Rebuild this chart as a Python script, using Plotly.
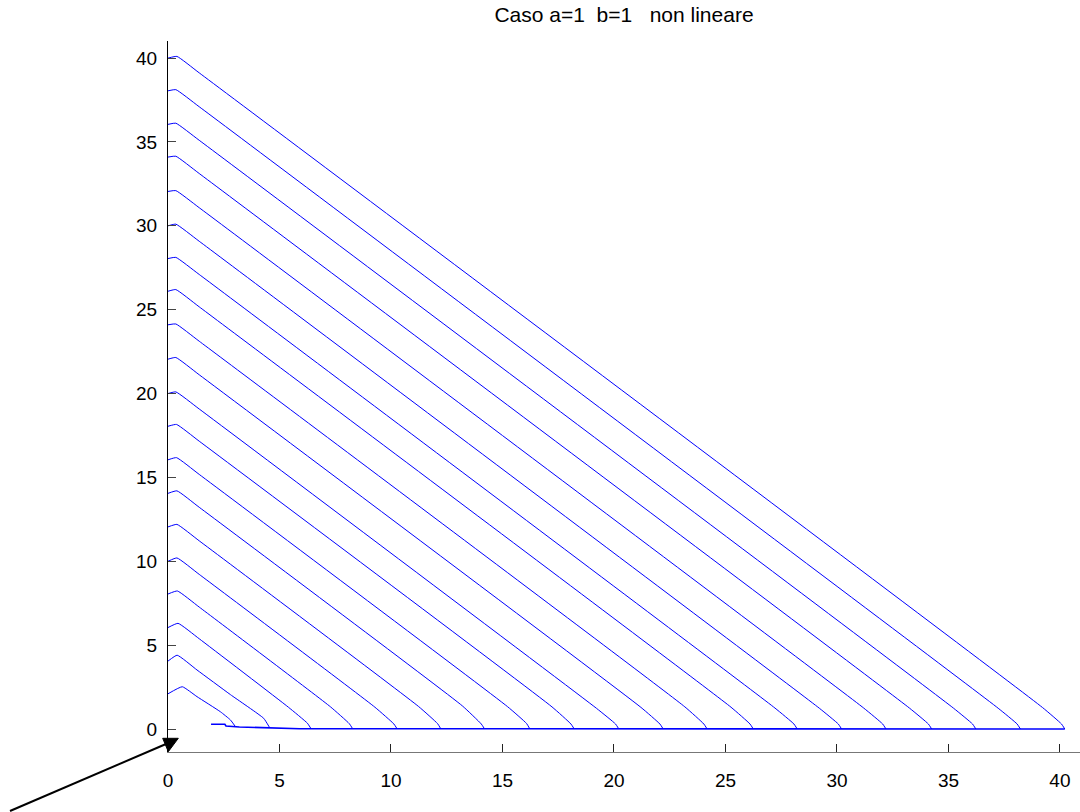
import plotly.graph_objects as go

# Trajectories starting on the y axis: start, peak, shoulder, knee, hook and end points
start_y = [2.1, 4.05, 6.05, 8.05, 10.0, 12.05, 14.05, 16.05, 18.05, 20.0,
           22.05, 24.1, 26.1, 28.05, 30.0, 32.05, 34.1, 36.05, 38.05, 40.0]
peak_x = [0.64, 0.41, 0.45, 0.42, 0.40, 0.40, 0.40, 0.38, 0.38, 0.35,
          0.35, 0.35, 0.35, 0.35, 0.35, 0.35, 0.35, 0.35, 0.35, 0.40]
peak_y = [2.52, 4.40, 6.30, 8.23, 10.20, 12.20, 14.20, 16.18, 18.16, 20.10,
          22.15, 24.15, 26.20, 28.12, 30.10, 32.10, 34.15, 36.12, 38.12, 40.10]
shoulder_x = [1.30, 1.30, 1.40, 1.40, 1.40, 1.40, 1.40, 1.40, 1.40, 1.40,
              1.40, 1.40, 1.40, 1.40, 1.40, 1.40, 1.40, 1.40, 1.40, 1.40]
shoulder_y = [1.93, 3.52, 5.38, 7.27, 9.22, 11.22, 13.22, 15.18, 17.16, 19.08,
              21.12, 23.12, 25.17, 27.10, 29.08, 31.08, 33.12, 35.10, 37.10, 39.12]
knee_x = [2.35, 2.80, 5.40, 7.28, 9.28, 11.24, 13.20, 15.23, 17.22, 19.22,
          21.21, 23.18, 25.25, 27.22, 29.21, 31.20, 33.25, 35.23, 37.23, 39.22]
knee_y = [1.03, 2.05, 1.30, 1.33, 1.30, 1.34, 1.38, 1.33, 1.32, 1.23,
          1.29, 1.32, 1.30, 1.25, 1.24, 1.25, 1.25, 1.24, 1.24, 1.28]
hook_x = [2.80, 4.29, 6.25, 8.13, 10.13, 12.09, 14.05, 16.08, 18.07, 20.07,
          22.06, 24.03, 26.10, 28.07, 30.06, 32.05, 34.10, 36.08, 38.08, 40.07]
hook_y = [0.54, 0.64, 0.35, 0.32, 0.30, 0.32, 0.30, 0.33, 0.30, 0.30,
          0.30, 0.30, 0.30, 0.30, 0.30, 0.30, 0.30, 0.30, 0.30, 0.30]
end_x = [3.02, 4.55, 6.40, 8.28, 10.28, 12.24, 14.20, 16.23, 18.22, 20.22,
         22.21, 24.18, 26.25, 28.22, 30.21, 32.20, 34.25, 36.23, 38.23, 40.22]
end_y = [0.15, 0.10, 0.05, 0.02, 0.0, 0.0, 0.0, 0.0, 0.0, 0.0,
         0.0, 0.0, 0.0, 0.0, 0.0, 0.0, 0.0, 0.0, 0.0, 0.0]

# Path running back along the x axis
tail_x = [1.93, 2.55, 2.60, 3.20, 5.90, 40.22]
tail_y = [0.28, 0.28, 0.18, 0.12, 0.02, 0.0]

x_ticks = [0, 5, 10, 15, 20, 25, 30, 35, 40]
y_ticks = [0, 5, 10, 15, 20, 25, 30, 35, 40]

title_text = "Caso a=1\u00a0\u00a0b=1\u00a0\u00a0\u00a0non lineare"

BLUE = "#0000ff"
FONT = "Liberation Sans, Arial, sans-serif"

fig = go.Figure()

for i in range(len(start_y)):
    xs = [0.0, peak_x[i], shoulder_x[i], knee_x[i], hook_x[i], end_x[i]]
    ys = [start_y[i], peak_y[i], shoulder_y[i], knee_y[i], hook_y[i], end_y[i]]
    fig.add_trace(go.Scatter(
        x=xs, y=ys, mode="lines",
        line=dict(color=BLUE, width=1, shape="spline", smoothing=0.4),
        hoverinfo="skip", showlegend=False,
    ))

fig.add_trace(go.Scatter(
    x=tail_x, y=tail_y, mode="lines",
    line=dict(color=BLUE, width=1.6),
    hoverinfo="skip", showlegend=False,
))

L, R, T, B = 168, 0, 41, 60
W, H = 1080, 812
pw, ph = W - L - R, H - T - B


def px(x):
    return (x - L) / pw


def py(y):
    return (H - B - y) / ph


# Pointer arrow toward the origin corner
fig.add_shape(type="line", xref="paper", yref="paper",
              x0=px(10), y0=py(811), x1=px(166), y1=py(744),
              line=dict(color="black", width=2))
fig.add_shape(type="path", xref="paper", yref="paper",
              path=(f"M {px(162.7)} {py(738.3)} L {px(178.3)} {py(738.3)} "
                    f"L {px(168.3)} {py(751.7)} Z"),
              fillcolor="black", line=dict(color="black", width=1))

fig.update_layout(
    width=W, height=H,
    margin=dict(l=L, r=R, t=T, b=B, pad=0),
    paper_bgcolor="white", plot_bgcolor="white",
    font=dict(family=FONT, size=19, color="black"),
    title=dict(text=title_text, x=0.5, xref="paper", xanchor="center",
               y=1 - 15 / H, yref="container", yanchor="middle",
               font=dict(family=FONT, size=21, color="black")),
)

fig.update_xaxes(
    range=[0, 40.9], tickvals=x_ticks, ticktext=[str(v) for v in x_ticks],
    ticks="inside", ticklen=8, tickwidth=1, tickcolor="#222",
    showline=True, linecolor="#777", linewidth=1, mirror=False,
    showgrid=False, zeroline=False, automargin=False,
    tickfont=dict(family=FONT, size=19, color="black"),
    ticklabelstandoff=11,
)
fig.update_yaxes(
    range=[-1.37, 41.02], tickvals=y_ticks, ticktext=[str(v) for v in y_ticks],
    ticks="inside", ticklen=8, tickwidth=1, tickcolor="#444",
    showline=True, linecolor="black", linewidth=1, mirror=False,
    showgrid=False, zeroline=False, automargin=False,
    tickfont=dict(family=FONT, size=19, color="black"),
    ticklabelstandoff=6,
)

fig.write_html("out.html")
